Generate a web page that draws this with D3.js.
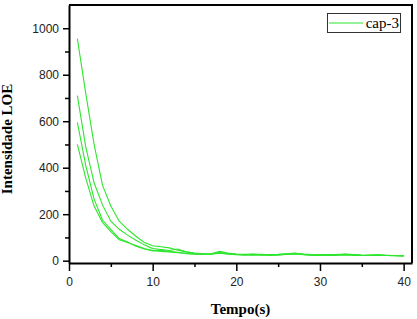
<!DOCTYPE html>
<html>
<head>
<meta charset="utf-8">
<script src="https://cdn.jsdelivr.net/npm/d3@7"></script>
<style>
  body { margin: 0; background: #fff; }
  svg { display: block; }
</style>
</head>
<body>
<svg id="chart"></svg>
<script>
// Datos
const tiempo = d3.range(1, 41);
const serieA = [955, 720, 500, 325, 235, 170, 135, 105, 78, 64, 60, 55, 45, 38, 33, 30, 28, 32, 28, 26, 25, 27, 26, 24, 25, 28, 30, 26, 24, 23, 25, 24, 26, 24, 22, 24, 23, 22, 21, 20];
const serieB = [710, 490, 335, 240, 170, 135, 110, 88, 68, 52, 48, 44, 50, 38, 32, 30, 29, 36, 30, 27, 26, 28, 25, 26, 27, 30, 33, 27, 25, 24, 26, 25, 27, 25, 23, 22, 24, 23, 22, 21];
const serieC = [595, 410, 265, 175, 135, 95, 80, 62, 50, 42, 45, 40, 36, 32, 29, 28, 30, 40, 33, 28, 27, 26, 27, 25, 26, 28, 31, 28, 26, 25, 24, 26, 28, 26, 24, 23, 25, 22, 22, 21];
const serieD = [500, 355, 235, 165, 125, 90, 78, 65, 52, 44, 40, 38, 34, 30, 28, 27, 29, 34, 30, 27, 25, 24, 26, 24, 25, 27, 29, 27, 25, 24, 23, 25, 26, 24, 22, 23, 24, 22, 21, 20];
const series = [serieA, serieB, serieC, serieD];
const xTicks = [0, 10, 20, 30, 40];
const xMinor = [5, 15, 25, 35];
const yTicks = [0, 200, 400, 600, 800, 1000];
const yMinor = [100, 300, 500, 700, 900];
const leyenda = "cap-3";

const width = 417;
const height = 319;
const mLeft = 69, mRight = 412, mTop = 5, mBottom = 263;
const verde = "#2ee62e";

const svg = d3.select("#chart")
    .attr("width", width)
    .attr("height", height);

const x = d3.scaleLinear().domain([0, 41]).range([mLeft, mRight]);
const y = d3.scaleLinear().domain([-10, 1100]).range([mBottom, mTop]);

// Líneas de datos
const line = d3.line()
    .x((d, i) => x(tiempo[i]))
    .y(d => y(d));

svg.append("g")
  .selectAll("path")
  .data(series)
  .join("path")
    .attr("d", line)
    .attr("fill", "none")
    .attr("stroke", verde)
    .attr("stroke-width", 1.1);

// Marco superior y derecho
svg.append("path")
    .attr("d", `M${mLeft},${mTop}H${mRight}V${mBottom}`)
    .attr("fill", "none")
    .attr("stroke", "#000")
    .attr("stroke-width", 2);

// Eje X
svg.append("g")
    .attr("transform", `translate(0,${mBottom})`)
    .call(d3.axisBottom(x).tickValues(xTicks).tickFormat(d3.format("d")).tickSize(8).tickPadding(6).tickSizeOuter(0));
svg.append("g")
    .attr("transform", `translate(0,${mBottom})`)
    .call(d3.axisBottom(x).tickValues(xMinor).tickSize(4).tickFormat("").tickSizeOuter(0))
    .call(g => g.select(".domain").remove());

// Eje Y
svg.append("g")
    .attr("transform", `translate(${mLeft},0)`)
    .call(d3.axisLeft(y).tickValues(yTicks).tickFormat(d3.format("d")).tickSize(6).tickPadding(4).tickSizeOuter(0));
svg.append("g")
    .attr("transform", `translate(${mLeft},0)`)
    .call(d3.axisLeft(y).tickValues(yMinor).tickSize(4).tickFormat("").tickSizeOuter(0))
    .call(g => g.select(".domain").remove());

svg.selectAll(".tick line").attr("stroke", "#000").attr("stroke-width", 1.5);
svg.selectAll(".domain").attr("stroke", "#000").attr("stroke-width", 2);
svg.selectAll(".tick text")
    .style("font-family", "Liberation Sans, Arial, sans-serif")
    .style("font-size", "12px")
    .attr("fill", "#222");

// Títulos de ejes
svg.append("text")
    .attr("x", (mLeft + mRight) / 2)
    .attr("y", 314)
    .attr("text-anchor", "middle")
    .style("font-family", "Liberation Serif, Times New Roman, serif")
    .style("font-weight", "bold")
    .style("font-size", "15px")
    .text("Tempo(s)");

svg.append("text")
    .attr("transform", `translate(12,${(mTop + mBottom) / 2 + 5}) rotate(-90)`)
    .attr("text-anchor", "middle")
    .style("font-family", "Liberation Serif, Times New Roman, serif")
    .style("font-weight", "bold")
    .style("font-size", "15px")
    .text("Intensidade LOE");

// Leyenda
const lg = svg.append("g");
lg.append("rect")
    .attr("x", 327.5).attr("y", 13.5)
    .attr("width", 73).attr("height", 19)
    .attr("fill", "#fff")
    .attr("stroke", "#333")
    .attr("stroke-width", 1);
lg.append("line")
    .attr("x1", 329).attr("x2", 363)
    .attr("y1", 23).attr("y2", 23)
    .attr("stroke", verde)
    .attr("stroke-width", 1.2);
lg.append("text")
    .attr("x", 399).attr("y", 28)
    .attr("text-anchor", "end")
    .style("font-family", "Liberation Serif, Times New Roman, serif")
    .style("font-size", "15px")
    .text(leyenda);
</script>
</body>
</html>
